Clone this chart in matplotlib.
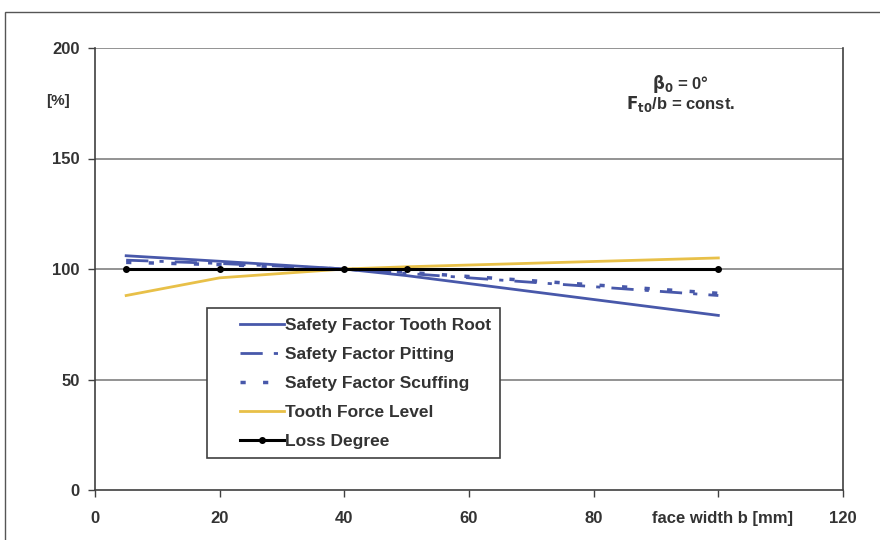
import numpy as np
import matplotlib.pyplot as plt
from matplotlib.patches import Rectangle

plt.rcParams['font.family'] = ['Liberation Sans', 'DejaVu Sans']

# face width b [mm]
b = [5, 20, 40, 50, 100]
tooth_root = [106, 103.5, 100, 97, 79]
pitting = [104, 102.5, 100, 98, 88]
scuffing = [103, 102, 100, 98.5, 89]
force_level = [88, 96, 100, 101, 105]
loss_degree = [100, 100, 100, 100, 100]

xticks = [0, 20, 40, 60, 80, 100, 120]
xticklabels = ['0', '20', '40', '60', '80', '', '120']
yticks = [0, 50, 100, 150, 200]

blue = '#4858aa'
yellow = '#e8c048'
txt = '#333333'

fig = plt.figure(figsize=(8.8, 5.4), dpi=100)
# outer frame of the figure
fig.patches.append(Rectangle((5 / 880, -0.01), 1.0, 1 - 12 / 540 + 0.01,
                             transform=fig.transFigure, fill=False,
                             edgecolor='#555555', linewidth=1.0))

ax = fig.add_axes([95 / 880, 50 / 540, 748 / 880, 442 / 540])
ax.set_xlim(0, 120)
ax.set_ylim(0, 200)

for yv in [50, 100, 150, 200]:
    ax.axhline(yv, color='#808080', linewidth=1.2, zorder=1)

ax.plot(b, tooth_root, color=blue, linewidth=2.0, label='Safety Factor Tooth Root', zorder=3)
ax.plot(b, pitting, color=blue, linewidth=2.0, dashes=(8, 4, 1.5, 4),
        label='Safety Factor Pitting', zorder=3)
ax.plot(b, scuffing, color=blue, linewidth=2.5, dashes=(1.5, 5),
        label='Safety Factor Scuffing', zorder=3)
ax.plot(b, force_level, color=yellow, linewidth=2.0, label='Tooth Force Level', zorder=3)
ax.plot(b, loss_degree, color='black', linewidth=2.2, marker='o', markersize=4,
        label='Loss Degree', zorder=4)

ax.spines['top'].set_visible(False)
for s in ['left', 'bottom', 'right']:
    ax.spines[s].set_color('#404040')
    ax.spines[s].set_linewidth(1.2)

ax.set_xticks(xticks)
ax.set_xticklabels(xticklabels)
ax.set_yticks(yticks)
ax.tick_params(direction='out', length=5, width=1, colors='#404040',
               labelcolor=txt, labelsize=12)
for lab in ax.get_xticklabels() + ax.get_yticklabels():
    lab.set_fontweight('bold')
ax.tick_params(axis='x', pad=10)
ax.tick_params(axis='y', pad=6)

ax.text(100.6, -12.7, 'face width b [mm]', ha='center', va='center', fontsize=12,
        fontweight='bold', color=txt)
ax.text(-6, 176, '[%]', ha='center', va='center', fontsize=11,
        fontweight='bold', color=txt)
ax.text(93.9, 183.5, r'$\mathbf{\beta_0}$ = 0°', ha='center', va='center', fontsize=12,
        fontweight='bold', color=txt)
ax.text(94, 174.5, r'$\mathbf{F_{t0}}$/b = const.', ha='center', va='center', fontsize=12,
        fontweight='bold', color=txt)

# legend box drawn separately (wide left margin in the reference)
ax.add_patch(Rectangle((18, 14.5), 47, 68, fill=True, facecolor='white',
                       edgecolor='#404040', linewidth=1.2, zorder=5))
leg = ax.legend(loc='upper left', bbox_to_anchor=(23.3, 77.8),
                bbox_transform=ax.transData, frameon=False,
                prop={'weight': 'bold', 'size': 12.5}, handlelength=2.5,
                handletextpad=0.1, labelspacing=0.8, borderpad=0,
                borderaxespad=0)
leg.set_zorder(6)
for t in leg.get_texts():
    t.set_color(txt)

fig.savefig('out.png', dpi=100)
